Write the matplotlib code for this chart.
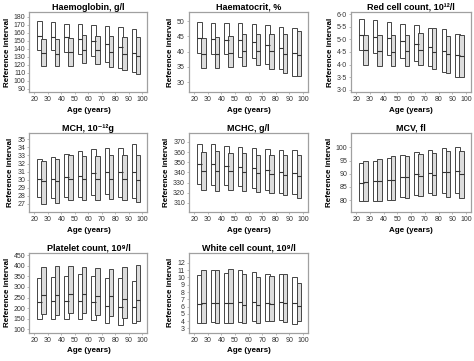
import matplotlib
matplotlib.use("Agg")
import matplotlib.pyplot as plt
import numpy as np
from matplotlib.ticker import FuncFormatter

plt.rcParams['font.family'] = ['Liberation Sans', 'DejaVu Sans']

age_groups = [20, 30, 40, 50, 60, 70, 80, 90]

hb_title = "Haemoglobin, g/l"
hb_m_lo = [138.7, 137.9, 136.6, 133.0, 130.5, 124.0, 116.2, 111.3]
hb_m_med = [155.9, 155.0, 154.2, 152.2, 149.3, 146.4, 142.0, 135.0]
hb_m_hi = [174.7, 173.9, 171.4, 170.6, 169.8, 168.5, 167.3, 165.3]
hb_f_lo = [118.2, 118.0, 118.0, 122.3, 121.0, 117.8, 113.3, 108.0]
hb_f_med = [134.6, 133.8, 135.8, 137.9, 137.9, 136.6, 133.8, 131.0]
hb_f_hi = [152.6, 152.6, 153.8, 156.7, 156.3, 156.3, 155.0, 154.2]

hct_title = "Haematocrit, %"
hct_m_lo = [39.6, 39.3, 39.1, 38.4, 38.0, 35.9, 34.3, 32.1]
hct_m_med = [44.4, 44.1, 43.9, 43.7, 43.2, 42.3, 41.3, 39.6]
hct_m_hi = [49.8, 49.5, 49.3, 49.3, 48.9, 48.6, 48.2, 47.6]
hct_f_lo = [34.6, 34.6, 34.9, 35.3, 35.6, 34.3, 33.1, 32.2]
hct_f_med = [39.4, 39.4, 39.7, 40.2, 40.3, 40.1, 39.3, 38.8]
hct_f_hi = [44.4, 44.9, 45.2, 45.7, 45.8, 45.8, 45.7, 46.6]

rbc_title = "Red cell count, 10\u00b9\u00b2/l"
rbc_m_lo = [4.56, 4.44, 4.37, 4.26, 4.15, 3.94, 3.72, 3.50]
rbc_m_med = [5.16, 5.11, 5.04, 4.95, 4.83, 4.70, 4.53, 4.39]
rbc_m_hi = [5.83, 5.76, 5.70, 5.62, 5.58, 5.46, 5.40, 5.20]
rbc_f_lo = [3.97, 3.94, 3.94, 3.94, 3.98, 3.81, 3.65, 3.52]
rbc_f_med = [4.56, 4.52, 4.51, 4.53, 4.56, 4.49, 4.40, 4.32]
rbc_f_hi = [5.19, 5.17, 5.16, 5.17, 5.24, 5.45, 5.15, 5.17]

mch_title = "MCH, 10\u207b\u00b9\u00b2g"
mch_m_lo = [27.8, 27.75, 27.8, 27.9, 28.1, 28.2, 27.8, 27.7]
mch_m_med = [30.1, 30.1, 30.3, 30.5, 30.8, 30.9, 31.0, 31.0]
mch_m_hi = [32.5, 32.8, 33.2, 33.5, 33.75, 33.9, 33.9, 34.4]
mch_f_lo = [27.0, 27.1, 27.5, 27.5, 27.5, 27.6, 27.5, 27.2]
mch_f_med = [29.8, 29.8, 30.1, 30.1, 30.1, 30.1, 30.1, 30.0]
mch_f_hi = [32.25, 32.5, 33.0, 32.9, 32.9, 33.0, 33.0, 33.0]

mchc_title = "MCHC, g/l"
mchc_m_lo = [328.8, 327.2, 327.8, 326.9, 324.9, 323.0, 320.0, 318.4]
mchc_m_med = [348.3, 348.0, 346.6, 345.7, 344.0, 342.4, 340.8, 339.5]
mchc_m_hi = [368.4, 367.7, 366.1, 365.1, 363.8, 362.8, 361.9, 361.9]
mchc_f_lo = [322.3, 321.7, 322.3, 321.7, 321.0, 319.7, 317.5, 315.2]
mchc_f_med = [341.8, 341.1, 341.1, 340.8, 339.2, 338.5, 337.0, 336.3]
mchc_f_hi = [360.3, 360.6, 359.6, 359.0, 357.0, 357.4, 357.4, 357.0]

mcv_title = "MCV, fl"
mcv_m_lo = [79.8, 79.8, 80.1, 81.0, 82.0, 82.7, 82.7, 82.5]
mcv_m_med = [86.4, 87.1, 87.7, 88.8, 89.8, 90.4, 90.8, 91.2]
mcv_m_hi = [94.0, 94.7, 96.0, 97.2, 98.2, 99.0, 99.9, 100.2]
mcv_f_lo = [79.8, 79.8, 80.2, 80.7, 81.6, 82.0, 81.2, 80.7]
mcv_f_med = [86.9, 87.1, 87.7, 88.8, 89.2, 89.6, 90.8, 89.8]
mcv_f_hi = [94.7, 95.5, 96.7, 96.7, 97.4, 97.9, 98.5, 98.7]

plt_title = "Platelet count, 10\u2079/l"
plt_m_lo = [150, 147, 151, 151, 144, 128, 123, 128]
plt_m_med = [231, 232, 235, 235, 228, 212, 206, 206]
plt_m_hi = [341, 349, 352, 360, 352, 343, 343, 330]
plt_f_lo = [173, 170, 175, 178, 168, 162, 155, 142]
plt_f_med = [263, 262, 268, 265, 257, 256, 245, 240]
plt_f_hi = [396, 399, 399, 396, 388, 385, 392, 403]

wbc_title = "White cell count, 10\u2079/l"
wbc_m_lo = [3.8, 3.95, 3.8, 3.95, 4.0, 4.0, 4.1, 3.6]
wbc_m_med = [6.3, 6.55, 6.55, 6.6, 6.6, 6.45, 6.6, 6.45]
wbc_m_hi = [10.3, 11.0, 10.6, 11.0, 10.7, 10.5, 10.5, 10.0]
wbc_f_lo = [3.8, 3.8, 3.8, 3.7, 3.7, 4.0, 3.9, 4.05]
wbc_f_med = [6.5, 6.55, 6.55, 6.2, 6.2, 6.3, 6.45, 6.15]
wbc_f_hi = [11.0, 11.05, 11.1, 10.45, 10.1, 10.2, 10.45, 9.2]

panels = [
    (hb_title, (86, 186), np.arange(90, 181, 10), hb_m_lo, hb_m_med, hb_m_hi, hb_f_lo, hb_f_med, hb_f_hi, False),
    (hct_title, (26.8, 53), np.arange(30, 51, 5), hct_m_lo, hct_m_med, hct_m_hi, hct_f_lo, hct_f_med, hct_f_hi, False),
    (rbc_title, (2.9, 6.1), np.arange(3.0, 6.01, 0.5), rbc_m_lo, rbc_m_med, rbc_m_hi, rbc_f_lo, rbc_f_med, rbc_f_hi, True),
    (mch_title, (26.0, 35.8), np.arange(27, 36, 1), mch_m_lo, mch_m_med, mch_m_hi, mch_f_lo, mch_f_med, mch_f_hi, False),
    (mchc_title, (301, 379), np.arange(310, 371, 10), mchc_m_lo, mchc_m_med, mchc_m_hi, mchc_f_lo, mchc_f_med, mchc_f_hi, False),
    (mcv_title, (75.5, 105.5), np.arange(80, 101, 5), mcv_m_lo, mcv_m_med, mcv_m_hi, mcv_f_lo, mcv_f_med, mcv_f_hi, False),
    (plt_title, (84, 461), np.arange(100, 451, 50), plt_m_lo, plt_m_med, plt_m_hi, plt_f_lo, plt_f_med, plt_f_hi, False),
    (wbc_title, (2.4, 13.4), np.arange(3, 13, 1), wbc_m_lo, wbc_m_med, wbc_m_hi, wbc_f_lo, wbc_f_med, wbc_f_hi, False),
]

fig = plt.figure(figsize=(4.74, 3.61), dpi=100)

col_left = [0.062, 0.399, 0.741]
col_w = [0.249, 0.251, 0.253]
row_y = [0.745, 0.413, 0.078]
row_h = [0.222, 0.219, 0.222]

bar_w = 3.2
edge = "#444444"
frame = "#a0a0a0"

for i, (title, ylim, yticks, mlo, mmed, mhi, flo, fmed, fhi, dot) in enumerate(panels):
    r, c = divmod(i, 3)
    ax = fig.add_axes([col_left[c], row_y[r], col_w[c], row_h[r]])
    ages = np.array(age_groups, dtype=float)
    xm = ages + 3.8
    xf = ages + 6.8
    mlo_a, mhi_a = np.array(mlo), np.array(mhi)
    flo_a, fhi_a = np.array(flo), np.array(fhi)
    ax.bar(xm, mhi_a - mlo_a, bottom=mlo_a, width=bar_w, color="white",
           edgecolor=edge, linewidth=0.7, zorder=2)
    ax.bar(xf, fhi_a - flo_a, bottom=flo_a, width=bar_w, color="#dcdcdc",
           edgecolor=edge, linewidth=0.7, zorder=3)
    ax.hlines(mmed, xm - bar_w / 2, xm + bar_w / 2, color="#333333", linewidth=0.8, zorder=4)
    ax.hlines(fmed, xf - bar_w / 2, xf + bar_w / 2, color="#333333", linewidth=0.8, zorder=4)
    ax.set_xlim(16.3, 103.7)
    ax.set_ylim(*ylim)
    ax.set_xticks(np.arange(20, 101, 10))
    ax.set_yticks(yticks)
    if dot:
        ax.yaxis.set_major_formatter(FuncFormatter(lambda v, p: f"{v:.1f}".replace(".", "\u00b7")))
    ax.tick_params(labelsize=5, length=1.5, width=0.5, color=frame, pad=1.5, labelcolor="#333333")
    for s in ax.spines.values():
        s.set_color(frame)
        s.set_linewidth(0.9)
    ax.set_title(title, fontsize=6.5, fontweight="bold", pad=1.5)
    ax.set_xlabel("Age (years)", fontsize=5.8, fontweight="bold", labelpad=2.5)
    ax.set_ylabel("Reference interval", fontsize=5.8, fontweight="bold", labelpad=2)

fig.savefig("out.png", dpi=100)
